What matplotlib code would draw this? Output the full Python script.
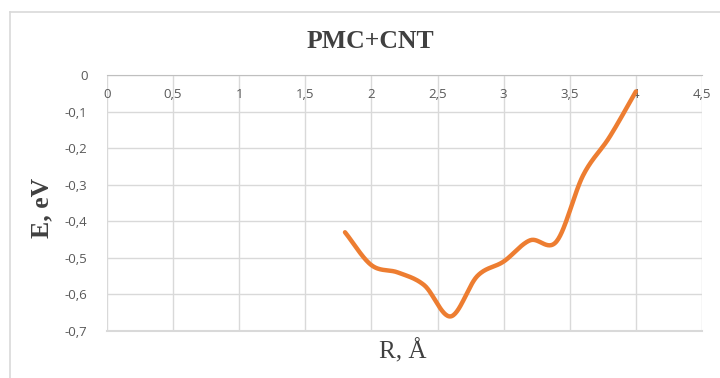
import numpy as np
import matplotlib.pyplot as plt
from matplotlib.lines import Line2D

# interatomic distance (Angstrom) and binding energy (eV)
r_vals = [1.8, 2.0, 2.2, 2.4, 2.6, 2.8, 3.0, 3.2, 3.4, 3.6, 3.8, 4.0]
e_vals = [-0.43, -0.52, -0.54, -0.575, -0.66, -0.55, -0.51, -0.452, -0.455, -0.275, -0.17, -0.045]

x_ticks = [0, 0.5, 1, 1.5, 2, 2.5, 3, 3.5, 4, 4.5]
y_ticks = [0, -0.1, -0.2, -0.3, -0.4, -0.5, -0.6, -0.7]


def smooth(x, y, n=30):
    """Catmull-Rom curve through the points, like a smoothed spreadsheet line."""
    x = np.asarray(x, float)
    y = np.asarray(y, float)
    px = np.concatenate([[2 * x[0] - x[1]], x, [2 * x[-1] - x[-2]]])
    py = np.concatenate([[2 * y[0] - y[1]], y, [2 * y[-1] - y[-2]]])
    xs, ys = [], []
    t = np.linspace(0, 1, n, endpoint=False)
    for i in range(1, len(px) - 2):
        for p, out in ((px, xs), (py, ys)):
            p0, p1, p2, p3 = p[i - 1], p[i], p[i + 1], p[i + 2]
            out.extend(0.5 * (2 * p1 + (-p0 + p2) * t
                              + (2 * p0 - 5 * p1 + 4 * p2 - p3) * t ** 2
                              + (-p0 + 3 * p1 - 3 * p2 + p3) * t ** 3))
    xs.append(x[-1])
    ys.append(y[-1])
    return np.array(xs), np.array(ys)


def fmt(v):
    s = ("%g" % v).replace(".", ",")
    return "0" if s in ("-0", "0") else s


fig = plt.figure(figsize=(7.2, 3.78), dpi=100)
ax = fig.add_axes([107 / 720, 1 - 331 / 378, 595 / 720, 256 / 378])

grid_c = "#d9d9d9"
text_c = "#595959"

sx, sy = smooth(r_vals, e_vals)
ax.plot(sx, sy, color="#ed7d31", lw=3.2, solid_capstyle="round", zorder=3)

ax.set_xlim(0, 4.5)
ax.set_ylim(-0.7, 0)
ax.set_xticks(x_ticks)
ax.set_yticks(y_ticks)
ax.set_xticklabels([fmt(v) for v in x_ticks])
ax.set_yticklabels([fmt(v) for v in y_ticks])
ax.grid(True, color=grid_c, lw=1)
ax.set_axisbelow(True)
# bottom edge of the plot area
ax.axhline(-0.7, color=grid_c, lw=1.5, clip_on=False, zorder=0.5)

for side in ("top", "left", "right"):
    ax.spines[side].set_visible(False)
ax.spines["bottom"].set_position(("data", 0))
ax.spines["bottom"].set_color("#bfbfbf")

ax.tick_params(axis="both", length=0, colors=text_c, labelsize=9.5)
ax.tick_params(axis="x", pad=9)
ax.tick_params(axis="y", pad=14)
for lab in ax.get_xticklabels() + ax.get_yticklabels():
    lab.set_family("Open Sans")

fig.text(370 / 720, 1 - 42 / 378, "PMC+CNT", ha="center", va="center",
         family="Liberation Serif", weight="bold", fontsize=18.5, color="#404040")
fig.text(42 / 720, 1 - 208 / 378, "E, eV", ha="center", va="center", rotation=90,
         family="Liberation Serif", weight="bold", fontsize=18.5, color="#404040")
fig.text(403 / 720, 1 - 351 / 378, "R, Å", ha="center", va="center",
         family="Liberation Serif", fontsize=18, color="#404040")

# chart frame
fig.add_artist(Line2D([10 / 720, 10 / 720], [0, 1 - 12 / 378], transform=fig.transFigure,
                      color=grid_c, lw=1.2))
fig.add_artist(Line2D([10 / 720, 1], [1 - 12 / 378, 1 - 12 / 378], transform=fig.transFigure,
                      color=grid_c, lw=1.2))

fig.savefig("out.png", dpi=100)
